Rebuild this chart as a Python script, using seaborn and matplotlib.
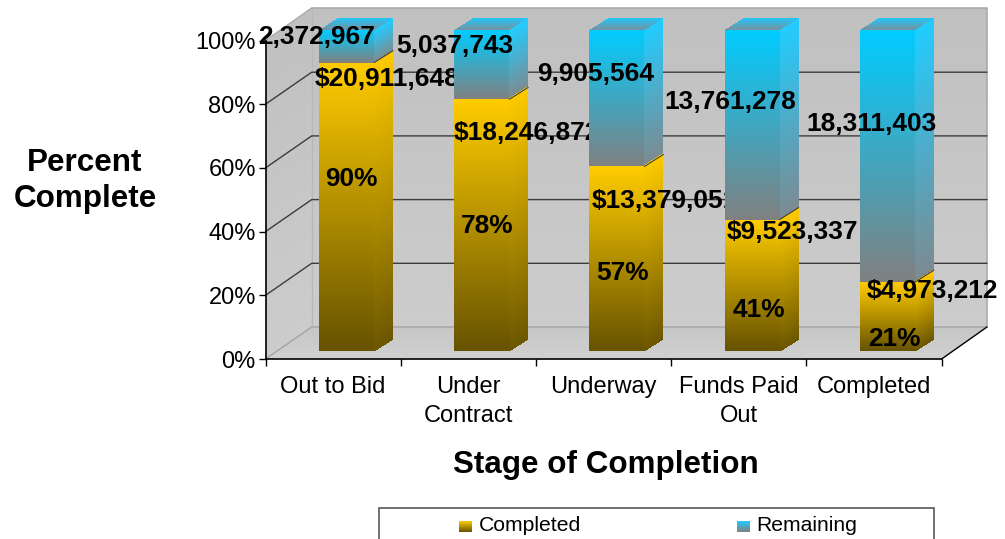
import numpy as np
import pandas as pd
import matplotlib
matplotlib.use('Agg')
import matplotlib.pyplot as plt
import matplotlib.ticker as ticker
from matplotlib.colors import to_rgb
from matplotlib.patches import Patch, Rectangle
from matplotlib.transforms import Affine2D
import seaborn as sns

stages = ['Out to Bid', 'Under\nContract', 'Underway', 'Funds Paid\nOut', 'Completed']
completed = [20911648, 18246872, 13379051, 9523337, 4973212]
remaining = [2372967, 5037743, 9905564, 13761278, 18311403]
y_ticks = [0, 20, 40, 60, 80, 100]

W, H = 1005, 539
DEPTH_X, DEPTH_Y = 19, 12

sns.set_style('white', {'text.color': 'black', 'axes.labelcolor': 'black', 'xtick.color': 'black', 'ytick.color': 'black'})
plt.rcParams['font.family'] = ['Liberation Sans', 'DejaVu Sans']

df = pd.DataFrame({'stage': stages, 'completed': completed, 'remaining': remaining})
df['total'] = df['completed'] + df['remaining']
df['completed_pct'] = df['completed'] / df['total'] * 100
df['remaining_pct'] = df['remaining'] / df['total'] * 100

# everything that is not data is placed in picture pixels, y going down
to_px = Affine2D().scale(1, -1).translate(0, H)


def box(x0, y_top, x1, y_bottom):
	return [x0 / W, 1 - y_bottom / H, (x1 - x0) / W, (y_bottom - y_top) / H]


def shade(target, quad, low, high, z):
	# quad = bottom left, bottom right, top left, top right
	(blx, bly), (brx, bry), (tlx, tly), (trx, try_) = quad
	t = np.linspace(0, 1, 97)
	X = np.column_stack([blx + (tlx - blx) * t, brx + (trx - brx) * t])
	Y = np.column_stack([bly + (tly - bly) * t, bry + (try_ - bry) * t])
	tc = (t[:-1] + t[1:]) / 2
	C = np.array(to_rgb(low)) + np.outer(tc, np.array(to_rgb(high)) - np.array(to_rgb(low)))
	target.pcolormesh(X, Y, C[:, None, :], transform=to_px, zorder=z, clip_on=False,
		edgecolors='none', shading='flat')


fig = plt.figure(figsize=(W / 100, H / 100), dpi=100, facecolor='white')
bg = fig.add_axes([0, 0, 1, 1], zorder=0)
ax = fig.add_axes(box(265.5, 40.5, 941.6, 359), zorder=1)
bar_ax = fig.add_axes(box(278.9, 30, 955, 350.7), zorder=2)
face_ax = fig.add_axes([0, 0, 1, 1], zorder=3)
face_ax.axis('off')

# walls and floor
bg.axis('off')
shade(bg, [(311.7, 327), (987, 327), (311.7, 8), (987, 8)], '#cccccc', '#c0c0c0', 1)
shade(bg, [(265.5, 359), (311.7, 327), (265.5, 40.5), (311.7, 8)], '#cccccc', '#c0c0c0', 1)
shade(bg, [(265.5, 359), (941.6, 359), (311.7, 327), (987, 327)], '#d0d0d0', '#c6c6c6', 1)
bg.plot([311.7, 311.7], [8, 327], color='#b8b8b8', lw=1, transform=to_px, zorder=2)
bg.plot([311.7, 987, 987], [8, 8, 327], color='#ababab', lw=1.2, transform=to_px, zorder=2)
bg.plot([265.5, 311.7], [40.5, 8], color='#ababab', lw=1, transform=to_px, zorder=2)
bg.plot([265.5, 311.7, 987], [359, 327, 327], color='#a4a4a4', lw=1, transform=to_px, zorder=2)
bg.plot([941.6, 987], [359, 327], color='black', lw=1, transform=to_px, zorder=2)
for tick in y_ticks[1:-1]:
	yf = 359 - tick * 3.185
	bg.plot([265.5, 311.7, 987], [yf, yf - 32, yf - 32], color='#3c3c3c', lw=1, transform=to_px, zorder=2)
bg.set_xlim(0, 1)
bg.set_ylim(0, 1)

# front axes
ax.patch.set_alpha(0)
ax.set_xlim(-0.5, 4.5)
ax.set_ylim(0, 100)
ax.set_yticks(y_ticks)
ax.yaxis.set_major_formatter(ticker.PercentFormatter(decimals=0))
ax.set_xticks(range(len(stages)))
ax.set_xticklabels(stages, linespacing=1.4)
ax.set_xticks(np.arange(-0.5, 5), minor=True)
ax.tick_params(axis='x', which='major', length=0, pad=12.5, labelsize=17)
ax.tick_params(axis='x', which='minor', length=5, width=1, color='black', bottom=True)
ax.tick_params(axis='y', length=5, width=1, color='black', left=True, pad=2, labelsize=17)
for side in ['top', 'right']:
	ax.spines[side].set_visible(False)
for side in ['left', 'bottom']:
	ax.spines[side].set_color('black')
	ax.spines[side].set_linewidth(1.2)
ax.set_xlabel('Stage of Completion', fontsize=22.6, fontweight='bold')
ax.xaxis.set_label_coords(606, 465, transform=to_px)
ax.xaxis.label.set_va('center')
ax.set_ylabel('Percent\nComplete', fontsize=22.6, fontweight='bold', rotation=0,
	ha='center', va='center', linespacing=1.3)
ax.yaxis.set_label_coords(85, 181, transform=to_px)

# the bars
sns.barplot(data=df, x='stage', y='remaining_pct', bottom=df['completed_pct'], width=0.407,
	color='#40b8e0', ax=bar_ax)
n_before = len(bar_ax.patches)
sns.barplot(data=df, x='stage', y='completed_pct', width=0.407, color='#c09a00', ax=bar_ax)
bar_ax.set_xlim(-0.5, 4.5)
bar_ax.set_ylim(0, 100)
bar_ax.axis('off')
fig.canvas.draw()

top_bars = bar_ax.patches[:n_before]
low_bars = bar_ax.patches[n_before:]


def bar_px(patch):
	(x0, y0), (x1, y1) = bar_ax.transData.transform(
		[(patch.get_x(), patch.get_y()), (patch.get_x() + patch.get_width(), patch.get_y() + patch.get_height())])
	return x0, H - y1, x1, H - y0


def draw_faces(patch, front_low, front_high, side_low, side_high, z):
	x0, yt, x1, yb = bar_px(patch)
	patch.set_visible(False)
	shade(face_ax, [(x0, yb), (x1, yb), (x0, yt), (x1, yt)], front_low, front_high, z)
	shade(face_ax, [(x1, yb), (x1 + DEPTH_X, yb - DEPTH_Y), (x1, yt), (x1 + DEPTH_X, yt - DEPTH_Y)],
		side_low, side_high, z)
	return x0, yt, x1, yb


# where the value labels sit, in pixels of the picture
top_label_x = [317, 455, 596, 730, 871]
top_label_y = [37, 46, 74, 102, 124]
money_label_x = [315, 454, 592, 727, 867]
money_label_y = [79, 133, 201, 232, 291]
pct_label_x = [351, 487, 623, 759, 894]
pct_label_y = [179, 226, 273, 310, 339]
label_style = dict(fontsize=18.9, fontweight='bold', color='black', va='center', transform=to_px, clip_on=False)

for i in range(len(stages)):
	z = 3 + i * 2
	x0, yt, x1, yb = draw_faces(top_bars[i], '#808080', '#00ccff', '#7d8a90', '#22ccff', z)
	shade(face_ax, [(x0, yt), (x1, yt), (x0 + DEPTH_X, yt - DEPTH_Y), (x1 + DEPTH_X, yt - DEPTH_Y)],
		'#76919f', '#22c6f8', z)
	x0, yt, x1, yb = draw_faces(low_bars[i], '#665200', '#ffcc00', '#6b5600', '#fdca00', z)
	face_ax.plot([x1, x1 + DEPTH_X], [yt, yt - DEPTH_Y], color='#333333', lw=0.7, transform=to_px, zorder=z, clip_on=False)
	face_ax.text(top_label_x[i], top_label_y[i], f'{remaining[i]:,}', ha='center', zorder=z + 1, **label_style)
	face_ax.text(money_label_x[i], money_label_y[i], f'${completed[i]:,}', ha='left', zorder=z + 1, **label_style)
	face_ax.text(pct_label_x[i], pct_label_y[i], f'{completed[i] / df["total"][i] * 100:.0f}%', ha='center', zorder=z + 1, **label_style)

# legend
face_ax.add_patch(Rectangle((378.5, 507.5), 555.5, 40, facecolor='white', edgecolor='#666666', lw=1.3,
	transform=to_px, zorder=18, clip_on=True))
leg = face_ax.legend(handles=[Patch(color='#c09a00', label='Completed'), Patch(color='#40b8e0', label='Remaining')],
	ncols=2, frameon=False, fontsize=15.2, handlelength=0.62, handleheight=0.6, handletextpad=0.3,
	columnspacing=7.4, borderpad=0, borderaxespad=0, loc='upper left',
	bbox_to_anchor=(459, 516), bbox_transform=to_px)
leg.set_zorder(20)
fig.canvas.draw()
colors = [('#665200', '#ffcc00'), ('#808080', '#22ccff')]
for patch, text, (low, high) in zip(leg.get_patches(), leg.get_texts(), colors):
	right = text.get_window_extent().x0 - 6
	patch.set_visible(False)
	shade(face_ax, [(right - 13, 532), (right, 532), (right - 13, 521), (right, 521)], low, high, 25)
face_ax.set_xlim(0, 1)
face_ax.set_ylim(0, 1)

fig.savefig('out.png', dpi=100)
print('finish')
